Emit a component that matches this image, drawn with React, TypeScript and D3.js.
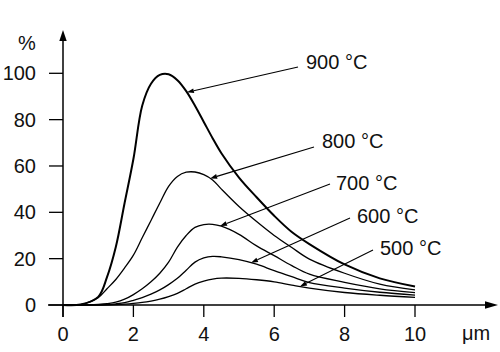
import React from "react";
import * as d3 from "d3";

const xGrid = [0, 0.5, 1, 1.25, 1.5, 1.75, 2, 2.25, 2.5, 2.75, 3, 3.25, 3.5, 3.75, 4, 4.25, 4.5, 5, 5.5, 6, 6.5, 7, 8, 9, 10];
const series900 = [0, 0.2, 3.5, 12, 25, 44, 63, 86, 95.5, 99.3, 99.6, 97, 92.3, 86, 79, 72, 65.5, 55, 46.5, 38.5, 31.5, 26.3, 17.5, 11.5, 8];
const series800 = [0, 0.2, 3.2, 7, 11, 16, 21.5, 29, 36.5, 44, 51.2, 55.5, 57.3, 57.4, 56.3, 54, 50, 42.5, 36, 30, 24.8, 19.8, 13.7, 9, 6.5];
const series700 = [0, 0, 0.3, 0.6, 1.2, 2.5, 4.5, 7, 10, 13.7, 18.5, 25, 30, 33.5, 34.7, 34.8, 34, 30.5, 25.5, 21.3, 17, 13.3, 9.8, 7, 5.3];
const series600 = [0, 0, 0.1, 0.2, 0.5, 1, 2, 3.2, 4.7, 6.5, 8.8, 11.5, 15, 18.5, 20.3, 21, 20.8, 19.6, 17.6, 14.8, 12.2, 9.7, 7.3, 5.5, 4.3];
const series500 = [0, 0, 0, 0.05, 0.2, 0.4, 0.7, 1.1, 1.7, 2.5, 3.6, 5, 7, 9, 10.3, 11.2, 11.6, 11.5, 10.9, 10, 8.6, 7.3, 5.4, 4.2, 3.3];

const seriesLabels = ["900 °C", "800 °C", "700 °C", "600 °C", "500 °C"];
const arrowTargetX = [3.52, 4.18, 4.46, 5.34, 6.73];
const xTicks = [0, 2, 4, 6, 8, 10];
const yTicks = [0, 20, 40, 60, 80, 100];

// layout (pixels)
const labelPos = [
  { tx: 306, ty: 69, ax: 298, ay: 67 },
  { tx: 322, ty: 148, ax: 314, ay: 147 },
  { tx: 336, ty: 190, ax: 330, ay: 184 },
  { tx: 357, ty: 223, ax: 350, ay: 218 },
  { tx: 380, ty: 255, ax: 373, ay: 250 },
];
const strokeWidths = [2, 1.3, 1.3, 1.3, 1.3];

export default function App() {
  const W = 500, H = 352;
  const x = d3.scaleLinear().domain([0, 10]).range([63, 415]);
  const y = d3.scaleLinear().domain([0, 100]).range([305, 73.3]);
  const all = [series900, series800, series700, series600, series500];
  const line = d3
    .line<number>()
    .x((_, i) => x(xGrid[i]))
    .y((d) => Math.min(y(d), 305))
    .curve(d3.curveCatmullRom.alpha(0.5));

  const interp = (s: number[], xv: number) => {
    const i = d3.bisectRight(xGrid, xv) - 1;
    const t = (xv - xGrid[i]) / (xGrid[i + 1] - xGrid[i]);
    return s[i] + t * (s[i + 1] - s[i]);
  };

  const font = "'Liberation Sans', Arial, Helvetica, sans-serif";

  return (
    <svg width={W} height={H} style={{ position: "absolute", left: 0, top: 0 }} fontFamily={font}>
      <rect width={W} height={H} fill="#fff" />
      <line x1={63} y1={317} x2={63} y2={38} stroke="#000" strokeWidth={1.5} />
      <polygon points="63,30 59.3,41 66.7,41" fill="#000" />
      <line x1={48} y1={305} x2={488} y2={305} stroke="#000" strokeWidth={1.5} />
      <polygon points="498,305 485,301.3 485,308.7" fill="#000" />
      {yTicks.map((t) => (
        <g key={"y" + t}>
          <line x1={49} x2={63} y1={y(t)} y2={y(t)} stroke="#000" strokeWidth={1.3} />
          <text x={36} y={y(t) + 7} fontSize={20} textAnchor="end" fill="#111">
            {t}
          </text>
        </g>
      ))}
      {xTicks.map((t) => (
        <g key={"x" + t}>
          <line x1={x(t)} x2={x(t)} y1={305} y2={317} stroke="#000" strokeWidth={1.3} />
          <text x={x(t)} y={341} fontSize={20} textAnchor="middle" fill="#111">
            {t}
          </text>
        </g>
      ))}
      <text x={18} y={50} fontSize={20} fill="#111">%</text>
      <text x={462} y={340} fontSize={20} fill="#111">μm</text>

      {all.map((s, i) => (
        <path key={"s" + i} d={line(s) || ""} fill="none" stroke="#000" strokeWidth={strokeWidths[i]} strokeLinejoin="round" />
      ))}

      {seriesLabels.map((lab, i) => {
        const p = labelPos[i];
        const tx = x(arrowTargetX[i]);
        const ty = y(interp(all[i], arrowTargetX[i]));
        const dx = tx - p.ax, dy = ty - p.ay;
        const len = Math.hypot(dx, dy);
        const ux = dx / len, uy = dy / len;
        const hl = 7, hw = 2.4;
        const bx = tx - ux * hl, by = ty - uy * hl;
        const pts = `${tx},${ty} ${bx - uy * hw},${by + ux * hw} ${bx + uy * hw},${by - ux * hw}`;
        return (
          <g key={"a" + i}>
            <line x1={p.ax} y1={p.ay} x2={bx} y2={by} stroke="#000" strokeWidth={1.1} />
            <polygon points={pts} fill="#000" />
            <text x={p.tx} y={p.ty} fontSize={20} fill="#111">{lab}</text>
          </g>
        );
      })}
    </svg>
  );
}
